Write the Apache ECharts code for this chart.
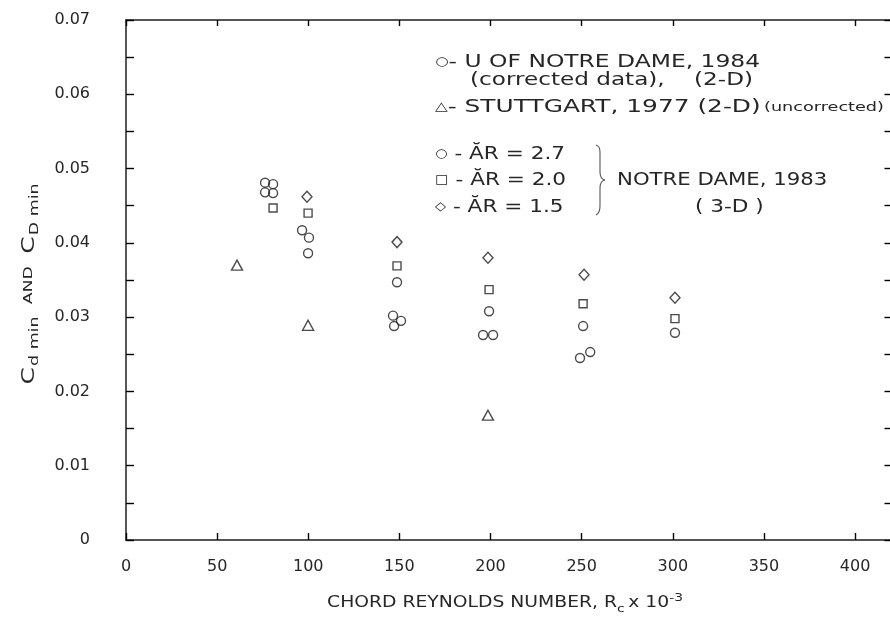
<!DOCTYPE html>
<html>
<head>
<meta charset="utf-8">
<script src="https://cdn.jsdelivr.net/npm/echarts@6/dist/echarts.min.js"></script>
<style>
  html, body { margin: 0; padding: 0; background: #fff; }
  #chart { width: 890px; height: 626px; }
</style>
</head>
<body>
<div id="chart"></div>
<script>
// Minimum drag coefficient vs chord Reynolds number (x 10^-3)
const xTicks = [0, 50, 100, 150, 200, 250, 300, 350, 400];
const yTicks = ['0', '0.01', '0.02', '0.03', '0.04', '0.05', '0.06', '0.07'];

// U of Notre Dame, 1984 (corrected data), 2-D
const notreDame1984 = [
  [76.3, 0.0481], [80.7, 0.0479], [76.3, 0.0468], [80.7, 0.0467],
  [96.6, 0.0417], [100.4, 0.0407],
  [146.5, 0.0302], [150.9, 0.0295], [147.1, 0.0288],
  [195.9, 0.0276], [201.4, 0.0276],
  [249.1, 0.0245], [254.7, 0.0253]
];
// Stuttgart, 1977 (2-D), uncorrected
const stuttgart1977 = [[60.9, 0.0370], [99.9, 0.0289], [198.6, 0.0168]];
// Notre Dame, 1983 (3-D), three aspect ratios
const ar27 = [[99.9, 0.0386], [148.7, 0.0347], [199.2, 0.0308], [250.8, 0.0288], [301.2, 0.0279]];
const ar20 = [[80.7, 0.0447], [99.9, 0.0440], [148.7, 0.0369], [199.2, 0.0337], [250.8, 0.0318], [301.2, 0.0298]];
const ar15 = [[99.3, 0.0462], [148.7, 0.0401], [198.6, 0.0380], [251.3, 0.0357], [301.2, 0.0326]];

const INK = '#1e1e1e';
const TXT = '#262626';
const FONT = 'DejaVu Sans';

const chart = echarts.init(document.getElementById('chart'), null, { renderer: 'canvas' });

function hollow(name, data, symbol, size) {
  return {
    name, type: 'scatter', data, symbol, symbolSize: size,
    xAxisIndex: 0, yAxisIndex: 0,
    itemStyle: { color: 'transparent', borderColor: INK, borderWidth: 1.4 },
    emphasis: { disabled: true },
    z: 5
  };
}

const yLabel = v => {
  const k = Math.round(v * 1000);
  if (k % 10 !== 0) return '';
  return yTicks[k / 10] || '';
};

const rich = {
  sm: { fontSize: 12, fontFamily: FONT, fill: TXT },
  sy: { fontSize: 12, fontFamily: FONT, fill: TXT },
  c: { fontSize: 17, fontFamily: FONT, fill: TXT },
  s: { fontSize: 12, fontFamily: FONT, fill: TXT, padding: [9, 0, 0, 1] },
  a: { fontSize: 12, fontFamily: FONT, fill: TXT, padding: [0, 3, 3, 3] },
  sub: { fontSize: 11, fontFamily: FONT, fill: TXT, padding: [12, 3, 0, 0] },
  sup: { fontSize: 11, fontFamily: FONT, fill: TXT, padding: [0, 0, 10, 0] }
};

// text placed at (x, y) with left or centre alignment, stretched horizontally by sx
const label = (x, y, text, size, sx, align, rot) => ({
  type: 'text', x, y, silent: true,
  scaleX: sx || 1, rotation: rot || 0,
  style: {
    text, fill: TXT, fontSize: size, fontFamily: FONT,
    rich, verticalAlign: 'middle', align: align || 'left'
  }
});

// curly brace grouping the three aspect-ratio entries
const brace = [
  [596, 145, 600, 152, 600, 146],
  [600, 152, 600, 172, 600, 162],
  [600, 172, 605, 180, 600, 179],
  [605, 180, 600, 188, 600, 181],
  [600, 188, 600, 206, 600, 197],
  [600, 206, 596, 215, 600, 213]
].map(s => ({
  type: 'bezierCurve', silent: true,
  shape: { x1: s[0], y1: s[1], x2: s[2], y2: s[3], cpx1: s[4], cpy1: s[5] },
  style: { fill: null, stroke: '#555', lineWidth: 1.1 }
}));

const frame = () => ({ show: true, onZero: false, lineStyle: { color: INK, width: 1.5 } });
const tick = len => ({ show: true, inside: true, length: len, lineStyle: { color: '#000', width: 1.4 } });

chart.setOption({
  backgroundColor: '#ffffff',
  animation: false,
  textStyle: { fontFamily: FONT, color: TXT },
  grid: {
    left: 126, top: 20, width: 765.5, height: 520,
    containLabel: false, outerBoundsMode: 'none'
  },
  xAxis: [
    {
      type: 'value', min: 0, max: 420, interval: 50, position: 'bottom',
      axisLine: frame(), axisTick: tick(7),
      axisLabel: {
        show: true, margin: 19, fontSize: 16, color: TXT, fontFamily: FONT,
        formatter: v => (xTicks.indexOf(v) >= 0 ? String(v) : '')
      },
      splitLine: { show: false }
    },
    {
      type: 'value', min: 0, max: 420, interval: 50, position: 'top',
      axisLine: frame(), axisTick: tick(6),
      axisLabel: { show: false }, splitLine: { show: false }
    }
  ],
  yAxis: [
    {
      type: 'value', min: 0, max: 0.07, interval: 0.005, position: 'left',
      axisLine: frame(), axisTick: tick(8),
      axisLabel: { show: true, margin: 36, fontSize: 16, color: TXT, fontFamily: FONT, formatter: yLabel },
      splitLine: { show: false }
    },
    {
      type: 'value', min: 0, max: 0.07, interval: 0.005, position: 'right',
      axisLine: frame(), axisTick: tick(7),
      axisLabel: { show: false }, splitLine: { show: false }
    }
  ],
  series: [
    hollow('U OF NOTRE DAME, 1984', notreDame1984, 'circle', 9),
    hollow('STUTTGART, 1977', stuttgart1977, 'triangle', [11, 10]),
    hollow('AR = 2.7', ar27, 'circle', 9),
    hollow('AR = 2.0', ar20, 'rect', 8),
    hollow('AR = 1.5', ar15, 'diamond', [10, 11])
  ],
  graphic: [
    label(435, 62, '{sy|○}- U OF NOTRE DAME, 1984', 18, 1.3),
    label(470, 81, '(corrected data),    (2-D)', 17, 1.36),
    label(435, 107, '{sy|△}- STUTTGART, 1977 (2-D)', 18, 1.38),
    label(764, 108, '(uncorrected)', 12, 1.47),
    label(435, 154, '{sy|○} - ĂR = 2.7', 18, 1.2),
    label(435, 180, '{sy|□} - ĂR = 2.0', 18, 1.2),
    label(435, 207, '{sy|◇} - ĂR = 1.5', 18, 1.2),
    label(617, 180, 'NOTRE DAME, 1983', 18, 1.18),
    label(695, 207, '( 3-D )', 18, 1.2),
    label(505, 603, 'CHORD REYNOLDS NUMBER, R{sub|c}x 10{sup|-3}', 15, 1.25, 'center'),
    label(30, 284, '{c|C}{s|d min} {a|AND} {c|C}{s|D min}', 17, 1.45, 'center', Math.PI / 2)
  ].concat(brace)
});
</script>
</body>
</html>
